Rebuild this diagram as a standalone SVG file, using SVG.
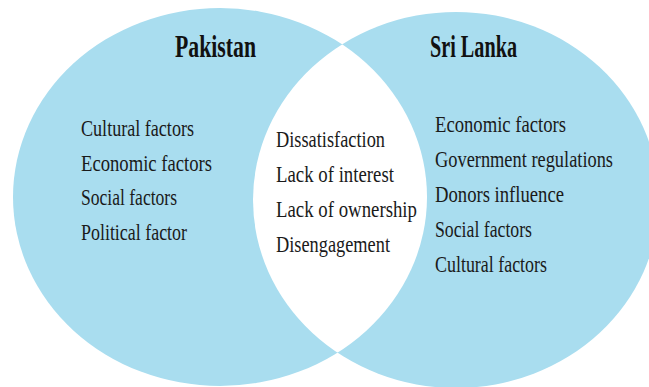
<svg xmlns="http://www.w3.org/2000/svg" width="649" height="387" viewBox="0 0 649 387">
<style>
.fill{fill:#a9ddef}
.title{font-family:"Liberation Serif",serif;font-size:31px;font-weight:bold;fill:#111}
.item{font-family:"Liberation Serif",serif;font-size:24px;fill:#1a1a1a}
</style>
<defs>
<clipPath id="leftClip"><ellipse cx="220" cy="197" rx="207" ry="189"/></clipPath>
</defs>
<rect width="649" height="387" fill="#ffffff"/>
<g id="pakistan">
<ellipse class="fill" cx="220" cy="197" rx="207" ry="189"/>
</g>
<g id="sri-lanka">
<ellipse class="fill" cx="456" cy="200" rx="203" ry="188"/>
</g>
<g id="overlap">
<ellipse cx="456" cy="200" rx="203" ry="188" fill="#ffffff" clip-path="url(#leftClip)"/>
</g>
<g id="pakistan-labels">
<text class="title" x="175" y="57" textLength="81" lengthAdjust="spacingAndGlyphs">Pakistan</text>
<text class="item" x="81" y="136" textLength="113" lengthAdjust="spacingAndGlyphs">Cultural factors</text>
<text class="item" x="81" y="171" textLength="131" lengthAdjust="spacingAndGlyphs">Economic factors</text>
<text class="item" x="81" y="205" textLength="96" lengthAdjust="spacingAndGlyphs">Social factors</text>
<text class="item" x="81" y="240" textLength="106" lengthAdjust="spacingAndGlyphs">Political factor</text>
</g>
<g id="overlap-labels">
<text class="item" x="276" y="147" textLength="109" lengthAdjust="spacingAndGlyphs">Dissatisfaction</text>
<text class="item" x="276" y="182" textLength="118" lengthAdjust="spacingAndGlyphs">Lack of interest</text>
<text class="item" x="276" y="217" textLength="141" lengthAdjust="spacingAndGlyphs">Lack of ownership</text>
<text class="item" x="276" y="252" textLength="114" lengthAdjust="spacingAndGlyphs">Disengagement</text>
</g>
<g id="sri-lanka-labels">
<text class="title" x="430" y="57" textLength="87" lengthAdjust="spacingAndGlyphs">Sri Lanka</text>
<text class="item" x="435" y="132" textLength="131" lengthAdjust="spacingAndGlyphs">Economic factors</text>
<text class="item" x="435" y="167" textLength="178" lengthAdjust="spacingAndGlyphs">Government regulations</text>
<text class="item" x="435" y="202" textLength="129" lengthAdjust="spacingAndGlyphs">Donors influence</text>
<text class="item" x="435" y="237" textLength="97" lengthAdjust="spacingAndGlyphs">Social factors</text>
<text class="item" x="435" y="272" textLength="112" lengthAdjust="spacingAndGlyphs">Cultural factors</text>
</g>
</svg>
